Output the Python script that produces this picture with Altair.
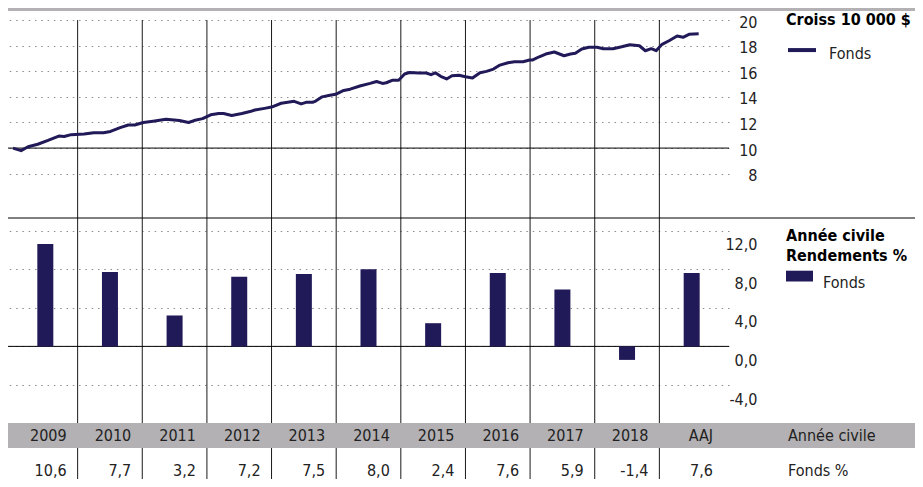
import altair as alt
import pandas as pd

# ---------------- data ----------------
years = ["2009", "2010", "2011", "2012", "2013", "2014", "2015", "2016", "2017", "2018", "AAJ"]
returns = [10.6, 7.7, 3.2, 7.2, 7.5, 8.0, 2.4, 7.6, 5.9, -1.4, 7.6]

# growth of 10 000 $ (thousands), months since Jan 2009
growth_month = [0, 1.5, 2.8, 4.6, 6.5, 8.5, 9.5, 10.8, 13.2, 15.0, 16.8, 18.1, 19.9, 21.4,
                22.6, 24.2, 26.0, 28.4, 30.9, 32.6, 33.6, 35.2, 36.7, 38.2, 39.1, 40.6,
                42.5, 44.0, 44.9, 46.7, 48.0, 49.8, 51.0, 52.2, 53.5, 54.4, 55.6, 56.2,
                57.4, 58.6, 59.9, 61.4, 62.6, 64.4, 66.3, 67.5, 68.6, 69.3, 70.5, 71.6,
                72.7, 73.6, 75.4, 76.7, 77.6, 78.4, 79.4, 80.5, 81.5, 82.8, 84.0, 85.3,
                86.7, 87.9, 89.2, 90.4, 91.9, 93.1, 94.7, 95.9, 96.5, 97.7, 98.9, 100.5,
                102.3, 103.5, 104.4, 105.6, 106.9, 108.4, 109.6, 111.4, 113.0, 114.5,
                116.3, 117.4, 118.5, 119.4, 120.5, 121.8, 123.3, 124.4, 125.5, 127.3]
growth_value = [10.0, 9.8, 10.1, 10.3, 10.6, 10.94, 10.9, 11.05, 11.1, 11.2, 11.2, 11.3, 11.6, 11.8,
                11.8, 12.0, 12.1, 12.25, 12.15, 12.0, 12.15, 12.3, 12.6, 12.7, 12.7, 12.55,
                12.7, 12.85, 12.97, 13.1, 13.2, 13.5, 13.57, 13.65, 13.45, 13.57, 13.57, 13.67,
                14.0, 14.1, 14.2, 14.5, 14.6, 14.85, 15.05, 15.2, 15.05, 15.1, 15.3, 15.3,
                15.78, 15.9, 15.86, 15.86, 15.73, 15.88, 15.6, 15.4, 15.65, 15.68, 15.57, 15.47,
                15.88, 15.99, 16.17, 16.48, 16.66, 16.74, 16.74, 16.88, 16.88, 17.13, 17.34, 17.5,
                17.21, 17.34, 17.4, 17.73, 17.87, 17.87, 17.76, 17.76, 17.91, 18.07,
                17.99, 17.6, 17.76, 17.6, 18.1, 18.38, 18.75, 18.65, 18.88, 18.93]

line_ticks = [8, 10, 12, 14, 16, 18, 20]
bar_ticks = [-4, 0, 4, 8, 12]
row_titles = ["Année civile", "Fonds %"]
series_name = "Fonds"
line_legend_title = "Croiss 10 000 $"
bar_legend_title = ["Année civile", "Rendements %"]

# ---------------- styles ----------------
NAVY = "#201a58"
GRAY = "#b3b1b3"
FONT = "DejaVu Sans Condensed, Roboto, sans-serif"
TXT = "#222222"
W, H = 721, 471
FULL_W = 907
FS = 16

growth_df = pd.DataFrame({"month": growth_month, "value": growth_value, "series": series_name})
year_df = pd.DataFrame({
    "label": years,
    "ret": returns,
    "center": [12 * i + 6 for i in range(len(years))],
    "end": [12 * (i + 1) for i in range(len(years))],
    "txt": [f"{v:.1f}".replace(".", ",") for v in returns],
    "bar_series": series_name,
})
sep_df = pd.DataFrame({"month": [12 * (i + 1) for i in range(len(years) - 1)]})
one = pd.DataFrame({"a": [0]})

x_scale = alt.Scale(domain=[0, 132], nice=False, zero=False)

y_line_scale = alt.Scale(domain=[8, 20], range=[165.7, 12], nice=False, zero=False)
y_bar_scale = alt.Scale(domain=[-4, 12], range=[377, 222.5], nice=False, zero=False)

grid_common = dict(grid=True, gridDash=[1.5, 4.8], gridColor="#8c8c8c", gridWidth=1,
                   domain=False, ticks=False, labelPadding=28, labelAlign="right",
                   labelFontSize=FS, labelColor=TXT, labelFont=FONT, title=None, orient="right")

y_line_axis = alt.Axis(values=line_ticks, format="d", labelOffset=2, **grid_common)
y_bar_axis = alt.Axis(values=bar_ticks, labelOffset=14,
                      labelExpr="(datum.value < 0 ? '-' : '') + replace(format(abs(datum.value), '.1f'), '.', ',')",
                      **grid_common)

# ---------------- layers ----------------
top_bar = alt.Chart(one).mark_rect(color=GRAY).encode(
    x=alt.value(0), x2=alt.value(FULL_W), y=alt.value(0), y2=alt.value(3))

seps = alt.Chart(sep_df).mark_rule(color="#1a1a1a", strokeWidth=1).encode(
    x=alt.X("month:Q", scale=x_scale, axis=None), y=alt.value(12), y2=alt.value(H))

mid_rule = alt.Chart(one).mark_rule(color="#000", strokeWidth=1).encode(
    x=alt.value(0), x2=alt.value(FULL_W), y=alt.value(210))

rule10 = alt.Chart(pd.DataFrame({"value": [10]})).mark_rule(color="#000", strokeWidth=1).encode(
    y=alt.Y("value:Q", scale=y_line_scale, axis=y_line_axis))

line = alt.Chart(growth_df).mark_line(strokeWidth=3, strokeJoin="round").encode(
    x=alt.X("month:Q", scale=x_scale, axis=None),
    y=alt.Y("value:Q", scale=y_line_scale, axis=y_line_axis),
    stroke=alt.Stroke("series:N", scale=alt.Scale(domain=[series_name], range=[NAVY]),
                      legend=alt.Legend(title=line_legend_title, orient="none", legendX=778, legendY=4,
                                        symbolType="M-1,-0.28L1,-0.28", symbolSize=784,
                                        symbolStrokeWidth=4, labelOffset=11, padding=0,
                                        titleFontSize=FS, titleFontWeight="bold", titleFont=FONT,
                                        titleColor="#000", labelFontSize=FS, labelFont=FONT,
                                        labelColor=TXT, titlePadding=10)),
)

line_group = alt.layer(rule10, line)

rule0 = alt.Chart(pd.DataFrame({"ret": [0]})).mark_rule(color="#000", strokeWidth=1).encode(
    y=alt.Y("ret:Q", scale=y_bar_scale, axis=y_bar_axis))

bars = alt.Chart(year_df).mark_bar(width=16).encode(
    x=alt.X("center:Q", scale=x_scale, axis=None),
    y=alt.Y("ret:Q", scale=y_bar_scale, axis=y_bar_axis),
    y2=alt.Y2(datum=0),
    fill=alt.Fill("bar_series:N", scale=alt.Scale(range=[NAVY]),
                  legend=alt.Legend(title=bar_legend_title, orient="none", legendX=778, legendY=220,
                                    symbolType="M-1,-0.874H1V-0.074H-1Z", symbolSize=729,
                                    symbolStrokeWidth=0, labelOffset=10, padding=0,
                                    titleFontSize=FS, titleFontWeight="bold", titleFont=FONT,
                                    titleColor="#000", titleLineHeight=20, labelFontSize=FS,
                                    labelFont=FONT, labelColor=TXT, titlePadding=5)),
)

bar_group = alt.layer(rule0, bars)

band = alt.Chart(one).mark_rect(color=GRAY).encode(
    x=alt.value(0), x2=alt.value(FULL_W), y=alt.value(415), y2=alt.value(440))

year_text = alt.Chart(year_df).mark_text(align="right", baseline="middle", dx=-11,
                                         fontSize=FS, font=FONT, color=TXT).encode(
    x=alt.X("end:Q", scale=x_scale, axis=None), y=alt.value(427.5), text="label:N")

val_text = alt.Chart(year_df).mark_text(align="right", baseline="middle", dx=-11,
                                        fontSize=FS, font=FONT, color=TXT).encode(
    x=alt.X("end:Q", scale=x_scale, axis=None), y=alt.value(463), text="txt:N")

row1 = alt.Chart(one).mark_text(text=row_titles[0], align="left", baseline="middle",
                                fontSize=FS, font=FONT, color=TXT).encode(
    x=alt.value(780), y=alt.value(427.5))
row2 = alt.Chart(one).mark_text(text=row_titles[1], align="left", baseline="middle",
                                fontSize=FS, font=FONT, color=TXT).encode(
    x=alt.value(780), y=alt.value(463))

chart = alt.layer(
    top_bar, seps, mid_rule, line_group, bar_group, band, year_text, val_text, row1, row2
).resolve_scale(y="independent").properties(
    width=W, height=H,
    padding={"left": 0, "top": 0, "right": FULL_W - W, "bottom": 0},
    autosize=alt.AutoSizeParams(type="none"),
).configure(font=FONT).configure_view(stroke=None)

chart.save("out.html", embed_options={"renderer": "svg", "actions": False})
